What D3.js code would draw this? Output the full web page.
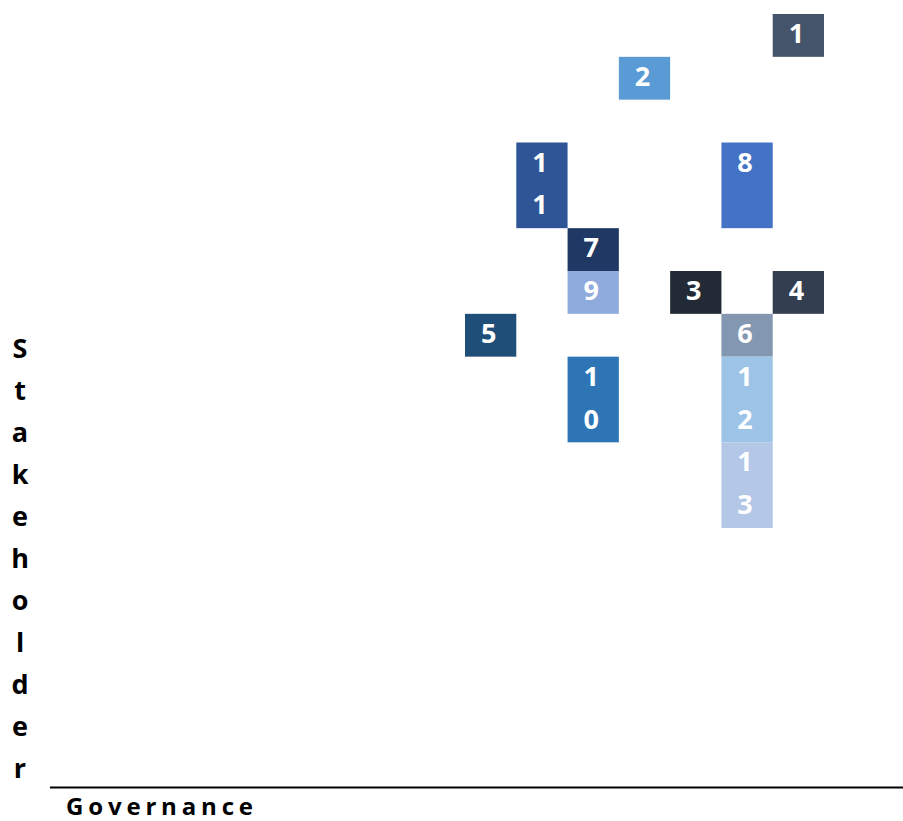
<!DOCTYPE html>
<html lang="en">
<head>
<meta charset="UTF-8">
<title>Stakeholder / Governance grid</title>
<style>
  body { margin: 0; background: #fff; }
  text { font-family: "Open Sans", "DejaVu Sans", sans-serif; font-weight: 700; }
</style>
</head>
<body>
<script src="https://cdn.jsdelivr.net/npm/d3@7"></script>
<script>
  // one entry per item
  var ids        = [1, 2, 3, 4, 5, 6, 7, 8, 9, 10, 11, 12, 13];
  var governance = [6, 3, 4, 6, 0, 5, 2, 5, 2, 2, 1, 5, 5];   // column
  var rowStart   = [0, 1, 6, 6, 7, 7, 5, 3, 6, 8, 3, 8, 10];  // row from top
  var rowSpan    = [1, 1, 1, 1, 1, 1, 1, 2, 1, 2, 2, 2, 2];
  var colors     = ['#44546a', '#5b9bd5', '#222a35', '#333f50', '#1f4e79', '#8497b0',
                    '#203864', '#4472c4', '#8faadc', '#2e75b6', '#2f5597', '#9dc3e6', '#b4c7e7'];

  var yLabel = 'Stakeholder',
      xLabel = 'Governance';

  var width = 903, height = 821;

  var svg = d3.select('body').append('svg')
      .attr('width', width)
      .attr('height', height);

  var items = ids.map(function(d, i) {
    return { id: d, col: governance[i], row: rowStart[i], span: rowSpan[i], color: colors[i] };
  });

  var x = d3.scaleBand().domain(d3.range(7)).range([465, 824]);
  var y = d3.scaleBand().domain(d3.range(12)).range([14, 528]);

  var cell = svg.selectAll('g.cell')
      .data(items)
    .enter().append('g')
      .attr('class', 'cell');

  cell.append('rect')
      .attr('x', function(d) { return x(d.col); })
      .attr('y', function(d) { return y(d.row); })
      .attr('width', x.bandwidth())
      .attr('height', function(d) { return y.step() * d.span; })
      .attr('fill', function(d) { return d.color; });

  // digits wrap one per line, like in the narrow table cells
  cell.each(function(d) {
    var digits = String(d.id).split('');
    d3.select(this).selectAll('text')
        .data(digits)
      .enter().append('text')
        .attr('x', x(d.col) + x.bandwidth() / 2 - 2)
        .attr('y', function(c, j) { return y(d.row) + 29 + j * y.step(); })
        .attr('text-anchor', 'middle')
        .attr('fill', '#fff')
        .attr('font-size', 27)
        .text(function(c) { return c; });
  });

  // vertical axis title, one letter per line
  var letterY = d3.scaleLinear().domain([0, 1]).range([358, 400]);
  svg.append('text')
      .attr('font-size', 27)
      .attr('fill', '#000')
      .attr('text-anchor', 'middle')
    .selectAll('tspan')
      .data(yLabel.split(''))
    .enter().append('tspan')
      .attr('x', 20)
      .attr('y', function(c, i) { return letterY(i); })
      .text(function(c) { return c; });

  // base line and horizontal axis title
  svg.append('line')
      .attr('x1', 50).attr('x2', width)
      .attr('y1', 787.5).attr('y2', 787.5)
      .attr('stroke', '#000')
      .attr('stroke-width', 2);

  svg.append('text')
      .attr('x', 66)
      .attr('y', 815)
      .attr('font-size', 24)
      .attr('fill', '#000')
      .attr('textLength', 187)
      .attr('lengthAdjust', 'spacing')
      .text(xLabel);
</script>
</body>
</html>
